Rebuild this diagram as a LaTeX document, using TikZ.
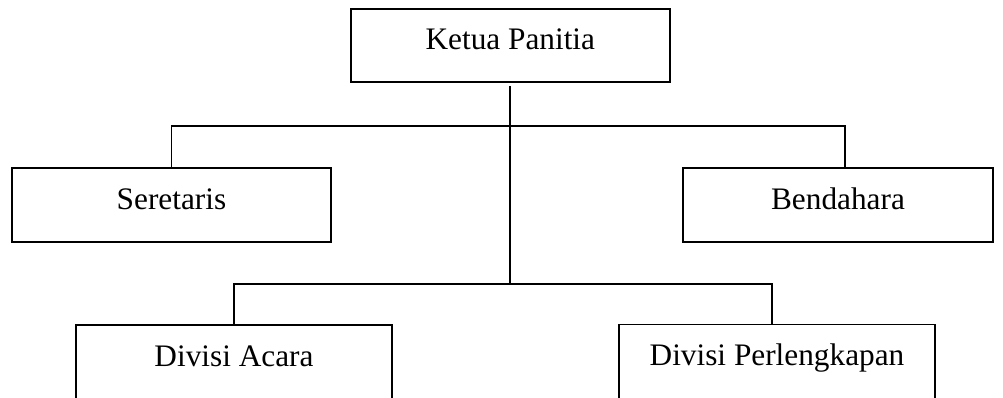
\documentclass[tikz,border=0pt]{standalone}
\usepackage{fontspec}
\setmainfont{Liberation Serif}
\begin{document}
\begin{tikzpicture}[x=1pt,y=-1pt,
  orgbox/.style={draw=black, line width=1.9pt, rectangle, inner sep=0pt,
    text height=21pt, text depth=13pt,
    font=\fontsize{31.3}{36}\selectfont},
  conn/.style={draw=black, line width=1.9pt}]
\useasboundingbox (0,0) rectangle (1003,397);
\clip (0,0) rectangle (1003,397);
\node[orgbox, minimum width=319pt, minimum height=73pt] (ketua) at (510.3,45.5) {Ketua Panitia};
\node[orgbox, minimum width=319pt, minimum height=74pt] (sek) at (171.5,205) {Seretaris};
\node[orgbox, minimum width=310pt, minimum height=74pt] (bend) at (838,205) {Bendahara};
\node[orgbox, minimum width=316pt, minimum height=74pt] (acara) at (234,362) {Divisi Acara};
\node[orgbox, minimum width=316pt, minimum height=74pt] (perl) at (777,361.5) {Divisi Perlengkapan};
\coordinate (hub1) at (510.3,126);
\coordinate (hub2) at (510.3,284);
\draw[conn] ([yshift=-3pt]ketua.south) -- (hub2);
\draw[conn] (sek.north) |- (hub1) -| ([xshift=7pt]bend.north);
\draw[conn] (acara.north) |- (hub2) -| ([xshift=-5pt]perl.north);
\end{tikzpicture}
\end{document}
